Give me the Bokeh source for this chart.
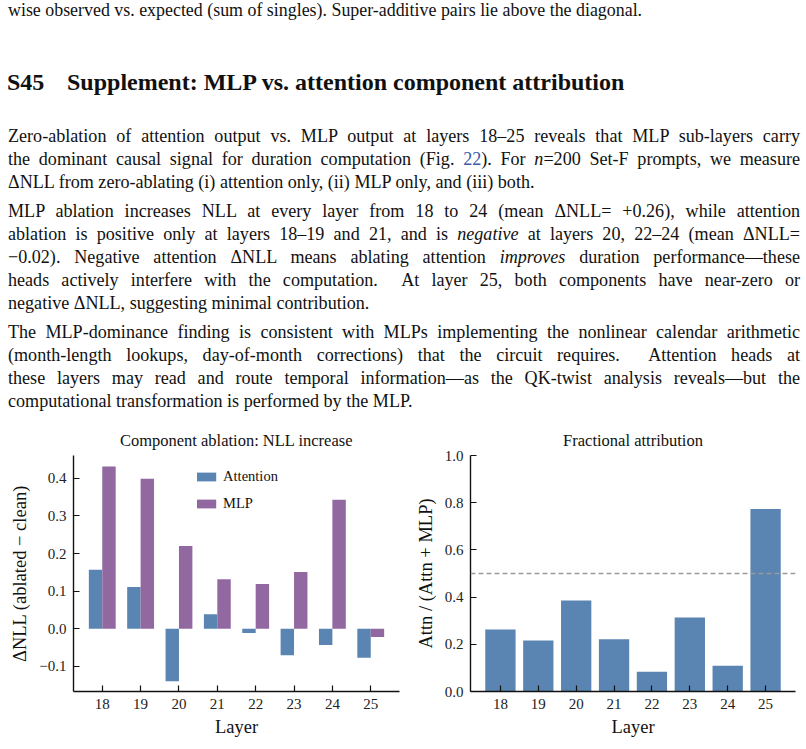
from bokeh.embed import file_html
from bokeh.resources import INLINE
from bokeh.layouts import column, row
from bokeh.models import (ColumnDataSource, Range1d, FixedTicker, CustomJSTickFormatter,
                          Span, Legend, LegendItem, Div)
from bokeh.plotting import figure
from bokeh.transform import dodge

# ---- data -------------------------------------------------------------
layers = [18, 19, 20, 21, 22, 23, 24, 25]
attn_dnll = [0.157, 0.111, -0.139, 0.039, -0.011, -0.070, -0.043, -0.077]
mlp_dnll = [0.431, 0.399, 0.220, 0.132, 0.119, 0.151, 0.343, -0.022]
attn_fraction = [0.263, 0.216, 0.386, 0.221, 0.084, 0.314, 0.109, 0.773]
left_yticks = [-0.1, 0.0, 0.1, 0.2, 0.3, 0.4]
right_yticks = [0.0, 0.2, 0.4, 0.6, 0.8, 1.0]

BLUE = "#5a84b1"
PURPLE = "#9268a0"
SERIF = "Liberation Serif"

# ---- page text --------------------------------------------------------
BODY = 18.1
# (top, html, justified)
body_lines = [
    (125, "Zero-ablation of attention output vs. MLP output at layers 18&ndash;25 reveals that MLP sub-layers carry", True),
    (148, "the dominant causal signal for duration computation (Fig. <span style='color:#3a5aa8'>22</span>). For <i>n</i>=200 Set-F prompts, we measure", True),
    (171, "&Delta;NLL from zero-ablating (i) attention only, (ii) MLP only, and (iii) both.", False),
    (200, "MLP ablation increases NLL at every layer from 18 to 24 (mean &Delta;NLL= +0.26), while attention", True),
    (223, "ablation is positive only at layers 18&ndash;19 and 21, and is <i>negative</i> at layers 20, 22&ndash;24 (mean &Delta;NLL=", True),
    (246, "&minus;0.02). Negative attention &Delta;NLL means ablating attention <i>improves</i> duration performance&mdash;these", True),
    (269, "heads actively interfere with the computation.&nbsp; At layer 25, both components have near-zero or", True),
    (292, "negative &Delta;NLL, suggesting minimal contribution.", False),
    (321, "The MLP-dominance finding is consistent with MLPs implementing the nonlinear calendar arithmetic", True),
    (344, "(month-length lookups, day-of-month corrections) that the circuit requires.&nbsp; Attention heads at", True),
    (367, "these layers may read and route temporal information&mdash;as the QK-twist analysis reveals&mdash;but the", True),
    (390, "computational transformation is performed by the MLP.", False),
]

parts = [
    "<div style='position:absolute; left:8px; top:-1px; line-height:23px; font-size:17.9px; white-space:nowrap;'>"
    "wise observed vs. expected (sum of singles). Super-additive pairs lie above the diagonal.</div>",
    "<div style='position:absolute; left:7px; top:67px; line-height:30px; font-size:24px; font-weight:bold; white-space:nowrap;'>S45</div>",
    "<div style='position:absolute; left:67px; top:67px; line-height:30px; font-size:24px; font-weight:bold; white-space:nowrap;'>"
    "Supplement: MLP vs. attention component attribution</div>",
]
for top, html, just in body_lines:
    align = "justify" if just else "left"
    parts.append(
        f"<div style='position:absolute; left:8px; top:{top}px; width:792px; line-height:23px; "
        f"font-size:{BODY}px; text-align:justify; text-align-last:{align};'>{html}</div>"
    )

text_div = Div(
    text="<div style='position:relative; width:806px; height:420px; color:#111; "
         f"font-family:\"{SERIF}\", serif;'>" + "".join(parts) + "</div>",
    width=806, height=420, margin=0,
)

# ---- shared axis styling ----------------------------------------------
minus_fmt = CustomJSTickFormatter(code="return tick.toFixed(1).replace('-', '\u2212');")


def style(p, yticks):
    p.outline_line_color = None
    p.xgrid.visible = False
    p.ygrid.visible = False
    p.title.text_font = SERIF
    p.title.text_font_style = "normal"
    p.title.text_font_size = "16.5px"
    p.title.text_color = "#111"
    p.title.align = "center"
    p.title.standoff = 12
    for ax in (p.xaxis[0], p.yaxis[0]):
        ax.axis_line_width = 1.4
        ax.axis_line_color = "#111"
        ax.major_tick_in = 6
        ax.major_tick_out = 0
        ax.major_tick_line_width = 1.2
        ax.major_tick_line_color = "#111"
        ax.minor_tick_line_color = None
        ax.major_label_text_font = SERIF
        ax.major_label_text_font_size = "15px"
        ax.major_label_text_color = "#222"
        ax.major_label_standoff = 7
        ax.axis_label_text_font = SERIF
        ax.axis_label_text_font_style = "normal"
        ax.axis_label_text_font_size = "18.5px"
        ax.axis_label_text_color = "#111"
    p.xaxis.ticker = FixedTicker(ticks=layers)
    p.yaxis.ticker = FixedTicker(ticks=yticks)
    p.yaxis.formatter = minus_fmt
    p.xaxis.axis_label = "Layer"
    p.xaxis.axis_label_standoff = 5
    p.yaxis.axis_label_standoff = 6


# ---- left: component ablation -----------------------------------------
src = ColumnDataSource(dict(layer=layers, attn=attn_dnll, mlp=mlp_dnll, frac=attn_fraction))

p1 = figure(width=400, height=329, output_backend="svg", toolbar_location=None,
            x_range=Range1d(17.25, 25.75), y_range=Range1d(-0.1665, 0.4605),
            min_border_left=73, min_border_right=1, min_border_top=35, min_border_bottom=58,
            title="Component ablation: NLL increase")
r_attn = p1.vbar(x=dodge("layer", -0.175, range=p1.x_range), top="attn", bottom=0, width=0.35,
                 source=src, fill_color=BLUE, line_color=None)
r_mlp = p1.vbar(x=dodge("layer", 0.175, range=p1.x_range), top="mlp", bottom=0, width=0.35,
                source=src, fill_color=PURPLE, line_color=None)
style(p1, left_yticks)
p1.yaxis.axis_label = "\u0394NLL (ablated \u2212 clean)"

legend = Legend(items=[LegendItem(label="Attention", renderers=[r_attn]),
                       LegendItem(label="MLP", renderers=[r_mlp])],
                location="top_center", orientation="vertical",
                glyph_width=24, glyph_height=11, label_height=11, label_standoff=5,
                spacing=10, padding=0, margin=13,
                label_text_font=SERIF, label_text_font_size="14.5px", label_text_color="#111",
                border_line_alpha=0, background_fill_alpha=0)
p1.add_layout(legend)

# ---- right: fractional attribution ------------------------------------
p2 = figure(width=406, height=329, output_backend="svg", toolbar_location=None,
            x_range=Range1d(17.21, 25.79), y_range=Range1d(0.0, 1.0),
            min_border_left=70, min_border_right=11, min_border_top=35, min_border_bottom=58,
            title="Fractional attribution")
p2.vbar(x="layer", top="frac", bottom=0, width=0.8, source=src, fill_color=BLUE, line_color=None)
p2.add_layout(Span(location=0.5, dimension="width", line_color="#9a9a9a",
                   line_dash="5 3", line_width=1.4))
style(p2, right_yticks)
p2.yaxis.axis_label = "Attn / (Attn + MLP)"

page = column(text_div, row(p1, p2, spacing=0), spacing=0)
open("out.html", "w").write(file_html(page, INLINE))
